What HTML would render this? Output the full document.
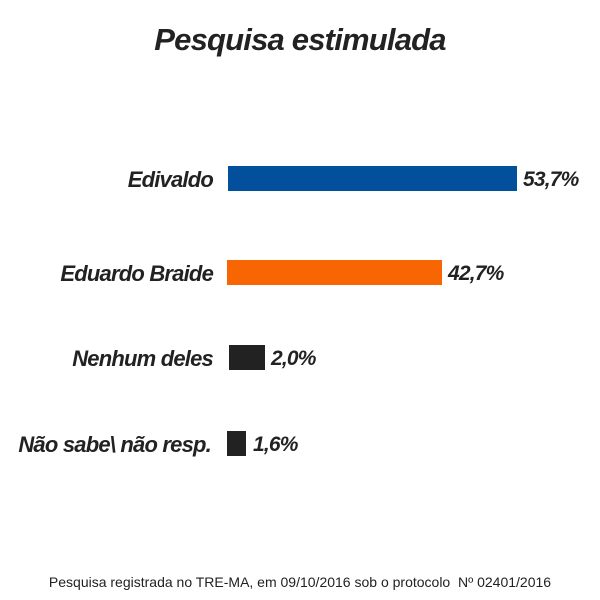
<!DOCTYPE html>
<html><head><style>
body{margin:0;width:600px;height:600px;background:#fff;position:relative;overflow:hidden;font-family:"Liberation Sans",sans-serif;color:#222}
.t{position:absolute;font-weight:bold;font-style:italic;white-space:nowrap;letter-spacing:-0.8px}
.lab{right:387px;font-size:22px;text-align:right}
.val{font-size:21px}
.bar{position:absolute;height:25px}
</style></head><body>
<div class="t" style="left:0;width:600px;text-align:center;top:22px;font-size:31px">Pesquisa estimulada</div>

<div class="t lab" style="top:167px">Edivaldo</div>
<div class="bar" style="left:228px;top:166px;width:289px;background:#02509c"></div>
<div class="t val" style="left:523px;top:168px">53,7%</div>

<div class="t lab" style="top:261px">Eduardo Braide</div>
<div class="bar" style="left:227px;top:260px;width:215px;background:#f76602"></div>
<div class="t val" style="left:448px;top:262px">42,7%</div>

<div class="t lab" style="top:346px">Nenhum deles</div>
<div class="bar" style="left:229px;top:345px;width:36px;background:#222"></div>
<div class="t val" style="left:271px;top:347px">2,0%</div>

<div class="t lab" style="top:432px;right:389px">Não sabe\ não resp.</div>
<div class="bar" style="left:227px;top:431px;width:19px;background:#222"></div>
<div class="t val" style="left:253px;top:433px">1,6%</div>

<div style="position:absolute;left:0;width:600px;text-align:center;top:574px;font-size:14px;color:#222">Pesquisa registrada no TRE-MA, em 09/10/2016 sob o protocolo &nbsp;Nº 02401/2016</div>
</body></html>
